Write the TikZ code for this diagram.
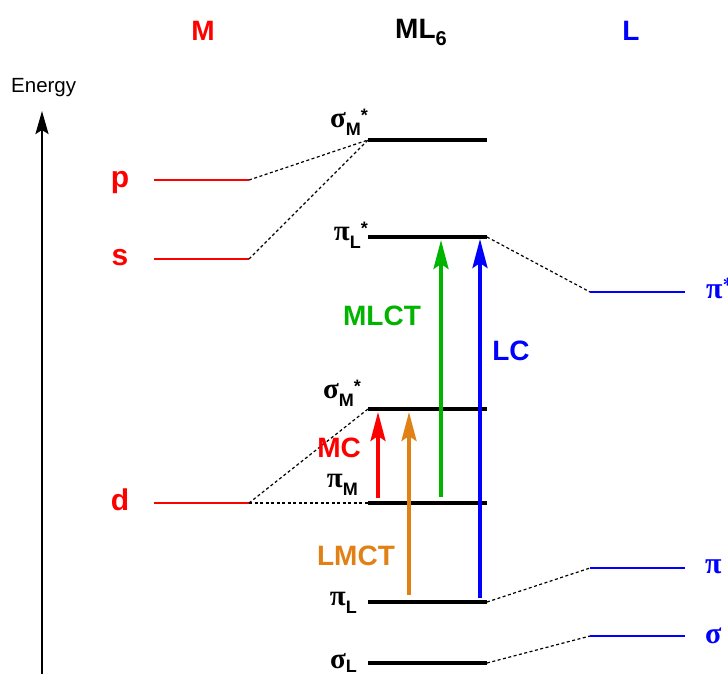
\documentclass[tikz,border=0pt]{standalone}
\usepackage{fontspec}
\setmainfont{Liberation Sans}
\newfontfamily\grk{Liberation Serif}
\usetikzlibrary{arrows.meta}
\definecolor{mred}{RGB}{255,0,0}
\definecolor{morange}{RGB}{225,128,20}
\definecolor{mgreen}{RGB}{0,180,0}
\definecolor{mblue}{RGB}{0,0,255}
\newcommand\lvlab[4][-8pt]{{\grk\fontsize{29}{29}\selectfont #2}\raisebox{#1}{\fontsize{18}{18}\selectfont #3}\raisebox{6pt}{\fontsize{18}{18}\selectfont #4}}
\begin{document}
\begin{tikzpicture}[x=1pt,y=-1pt,
  cplx/.style={line width=3.5pt,black},
  metal/.style={line width=1.6pt,mred},
  lig/.style={line width=1.6pt,mblue},
  corr/.style={line width=1.2pt,black,dash pattern=on 3pt off 2.5pt},
  trans/.style={line width=3.5pt,-{Stealth[length=29pt,width=15pt,inset=5pt]}},
  biglab/.style={font=\fontsize{28}{28}\selectfont\bfseries,inner sep=0pt,anchor=base},
  mlab/.style={font=\fontsize{30}{30}\selectfont\bfseries,text=mred,inner sep=0pt,anchor=base},
  clab/.style={font=\bfseries,inner sep=0pt,anchor=base east},
  llab/.style={font=\grk\fontsize{30}{30}\selectfont\bfseries,text=mblue,inner sep=0pt,anchor=base west}]
\useasboundingbox (0,0) rectangle (728,673);
% headers
\node[biglab,text=mred] (hM) at (203,40) {M};
\node[biglab] (hML) at (421,38) {ML\raisebox{-7pt}{\fontsize{20}{20}\selectfont 6}};
\node[biglab,text=mblue] (hL) at (631,40) {L};
% energy axis
\node[font=\fontsize{20.5}{20.5}\selectfont,inner sep=0pt,anchor=base west] (en) at (11,92) {Energy};
\coordinate (eB) at (42,680);
\coordinate (eT) at (42,111);
\draw[line width=2.4pt,-{Stealth[length=23pt,width=13pt,inset=4pt]}] (eB) -- (eT);
% metal levels
\coordinate (pA) at (154,180); \coordinate (pB) at (249,180);
\coordinate (sA) at (154,259); \coordinate (sB) at (249,259);
\coordinate (dA) at (154,503); \coordinate (dB) at (249,503);
\draw[metal] (pA) -- (pB);
\draw[metal] (sA) -- (sB);
\draw[metal] (dA) -- (dB);
\node[mlab] (lp) at (120,187) {p};
\node[mlab] (ls) at (120,265) {s};
\node[mlab] (ld) at (120,510) {d};
% complex levels
\coordinate (c1A) at (368,140); \coordinate (c1B) at (487,140);
\coordinate (c2A) at (368,237); \coordinate (c2B) at (487,237);
\coordinate (c3A) at (368,409); \coordinate (c3B) at (487,409);
\coordinate (c4A) at (368,503); \coordinate (c4B) at (487,503);
\coordinate (c5A) at (368,602); \coordinate (c5B) at (487,602);
\coordinate (c6A) at (368,663); \coordinate (c6B) at (487,663);
\foreach \i in {1,...,6} {\draw[cplx] (c\i A) -- (c\i B);}
\node[clab] (t1) at (368,127) {\lvlab{σ}{M}{*}};
\node[clab] (t2) at (368,240) {\lvlab{π}{L}{*}};
\node[clab] (t3) at (361,398) {\lvlab{σ}{M}{*}};
\node[clab] (t4) at (358,487) {\lvlab{π}{M}{}};
\node[clab] (t5) at (357,605) {\lvlab{π}{L}{}};
\node[clab] (t6) at (357,668) {\lvlab[-4pt]{σ}{L}{}};
% ligand levels
\coordinate (l1A) at (590,292); \coordinate (l1B) at (685,292);
\coordinate (l2A) at (590,568); \coordinate (l2B) at (685,568);
\coordinate (l3A) at (590,636); \coordinate (l3B) at (685,636);
\draw[lig] (l1A) -- (l1B);
\draw[lig] (l2A) -- (l2B);
\draw[lig] (l3A) -- (l3B);
\node[llab] (r1) at (706,298) {π\raisebox{7pt}{\fontsize{18}{18}\selectfont\sffamily *}};
\node[llab] (r2) at (705,573) {π};
\node[llab] (r3) at (705,643) {σ};
% correlation lines
\draw[corr] (pB) -- (c1A);
\draw[corr] (sB) -- (c1A);
\draw[corr] (dB) -- (c3A);
\draw[corr] (dB) -- (c4A);
\draw[corr] (c2B) -- (l1A);
\draw[corr] (c5B) -- (l2A);
\draw[corr] (c6B) -- (l3A);
% transitions
\coordinate (mcS) at (378,498); \coordinate (mcE) at (378,412);
\coordinate (lmS) at (409,595); \coordinate (lmE) at (409,412);
\coordinate (mlS) at (441,497); \coordinate (mlE) at (441,240);
\coordinate (lcS) at (480,598); \coordinate (lcE) at (480,239);
\draw[trans,mred] (mcS) -- (mcE);
\draw[trans,morange] (lmS) -- (lmE);
\draw[trans,mgreen] (mlS) -- (mlE);
\draw[trans,mblue] (lcS) -- (lcE);
\node[biglab,text=mred,anchor=base east] (tMC) at (361,457) {MC};
\node[biglab,text=morange] (tLM) at (356,565) {LMCT};
\node[biglab,text=mgreen] (tML) at (382,325) {MLCT};
\node[biglab,text=mblue] (tLC) at (511,360) {LC};
\end{tikzpicture}
\end{document}
